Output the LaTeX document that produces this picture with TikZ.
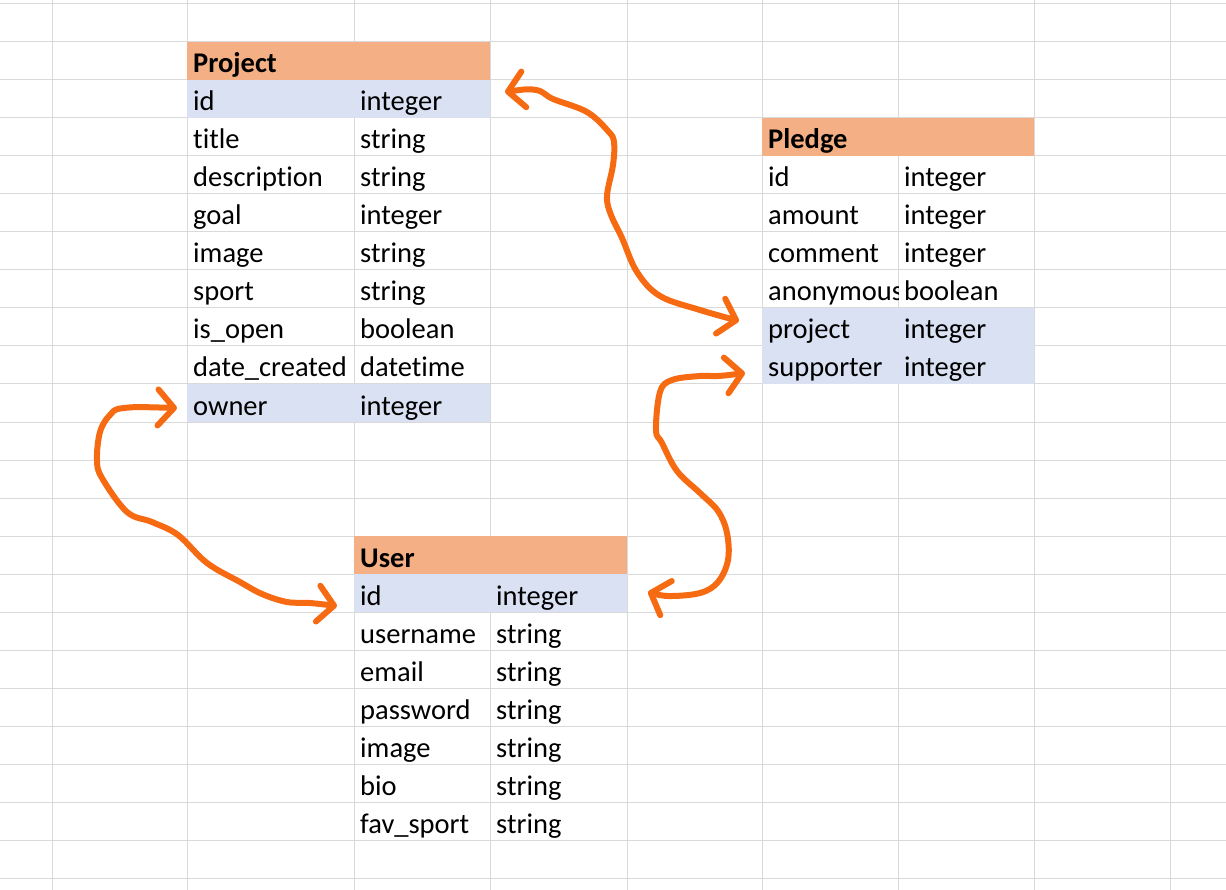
\documentclass[tikz,border=0pt]{standalone}
\usepackage{fontspec}
\setmainfont{Carlito}[Ligatures=NoCommon]
\usetikzlibrary{arrows.meta}
\definecolor{headfill}{RGB}{244,176,132}
\definecolor{keyfill}{RGB}{217,225,242}
\definecolor{gridgray}{RGB}{217,217,217}
\definecolor{penorange}{RGB}{246,106,18}
\begin{document}
\begin{tikzpicture}[x=1pt, y=-1pt, every node/.style={anchor=base west, inner sep=0pt, font=\fontsize{28.5}{32}\selectfont},
    head/.style={font=\fontsize{28.5}{32}\selectfont\bfseries},
    link/.style={draw=penorange, line width=6pt, line cap=round, line join=round, >={Straight Barb[length=16pt,width=36pt,round]}, <->}]
    \useasboundingbox (0,0) rectangle (1226,890);
    \foreach \x in {52,187,354,490,627,762,898,1034,1170}
        \draw[gridgray, line width=1pt] (\x,0) -- (\x,890);
    \foreach \y in {4,42,...,878}
        \draw[gridgray, line width=1pt] (0,\y) -- (1226,\y);
    \fill[headfill] (187,42) rectangle (490,80);
    \fill[keyfill] (187,80) rectangle (490,118);
    \fill[keyfill] (187,384) rectangle (490,422);
    \fill[headfill] (762,118) rectangle (1034,156);
    \fill[keyfill] (762,308) rectangle (1034,384);
    \fill[headfill] (354,536) rectangle (627,574);
    \fill[keyfill] (354,574) rectangle (627,612);
    \node[head] (p0) at (193,73) {Project};
    \foreach \f/\t [count=\i] in {id/integer, title/string, description/string, goal/integer, image/string, sport/string, is\_open/boolean, date\_created/datetime, owner/integer} {
        \node (p\i) at (193,73+38*\i) {\f};
        \node (pt\i) at (360,73+38*\i) {\t};
    }
    \node[head] (g0) at (768,149) {Pledge};
    \begin{scope}
        \clip (762,156) rectangle (898,384);
        \foreach \f [count=\i] in {id, amount, comment, anonymous, project, supporter}
            \node (g\i) at (768,149+38*\i) {\f};
    \end{scope}
    \foreach \t [count=\i] in {integer, integer, integer, boolean, integer, integer}
        \node (gt\i) at (904,149+38*\i) {\t};
    \node[head] (u0) at (360,567) {User};
    \foreach \f/\t [count=\i] in {id/integer, username/string, email/string, password/string, image/string, bio/string, fav\_sport/string} {
        \node (u\i) at (360,567+38*\i) {\f};
        \node (ut\i) at (496,567+38*\i) {\t};
    }
    \coordinate (a1) at (505,92);
    \coordinate (a2) at (739,321);
    \coordinate (b1) at (745,373);
    \coordinate (b2) at (648,592);
    \coordinate (c1) at (177,408);
    \coordinate (c2) at (337,606);
    \draw[link] plot[smooth, tension=0.6] coordinates {(a1) (536,90) (553,99) (587,112) (608,131) (614,142) (613,165) (607,196) (611,215) (622,238) (637,272) (660,296) (700,310) (a2)};
    \draw[link] plot[smooth, tension=0.6] coordinates {(b1) (718,376) (700,376) (672,380) (660,392) (656,430) (662,443) (677,471) (700,493) (718,511) (727,533) (728,560) (718,582) (700,593) (668,596) (b2)};
    \draw[link] plot[smooth, tension=0.6] coordinates {(c1) (124,408) (110,415) (100,432) (97,460) (102,478) (127,512) (152,522) (178,535) (207,563) (240,582) (262,594) (287,602) (310,603) (c2)};
\end{tikzpicture}
\end{document}
